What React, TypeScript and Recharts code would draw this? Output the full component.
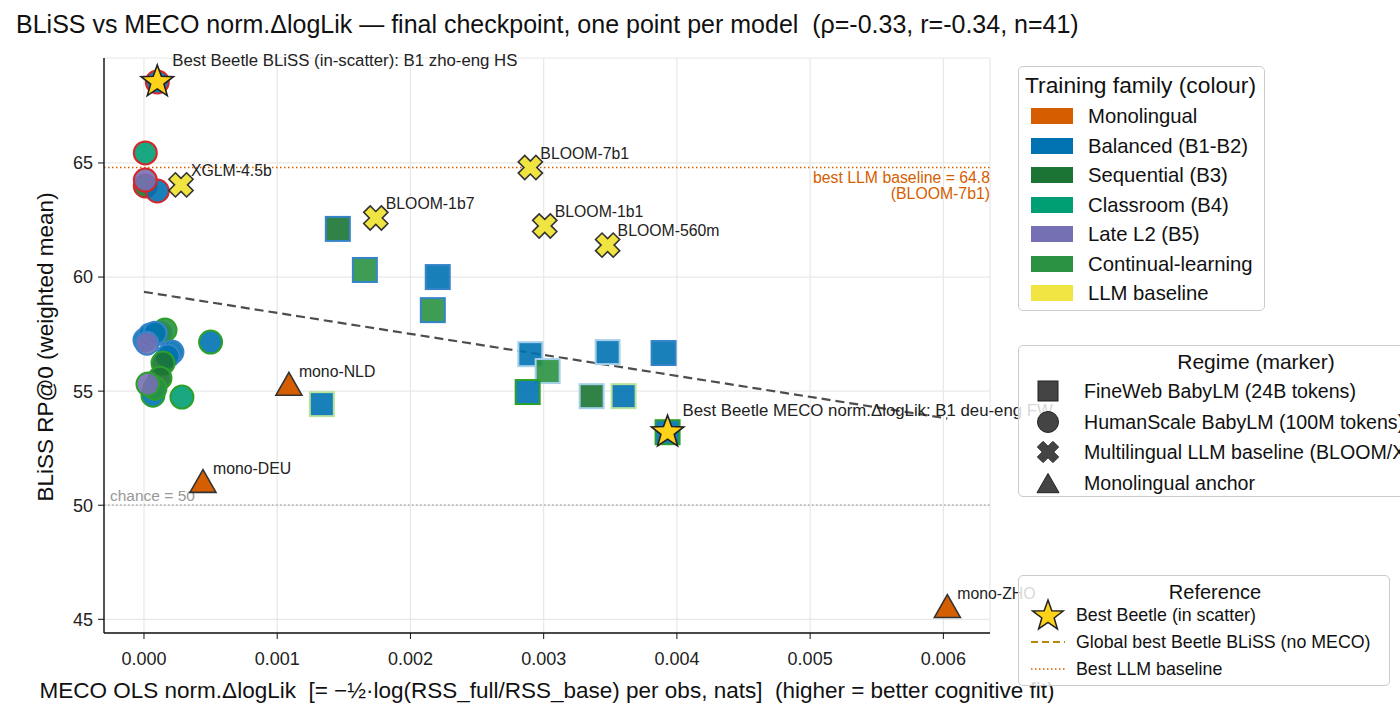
import React from "react";
import {
  CartesianGrid,
  Legend,
  ReferenceLine,
  Scatter,
  ScatterChart,
  XAxis,
  YAxis,
} from "recharts";

type Pt = { x: number; y: number; family: string; ring: string };
type Named = { x: number; y: number; name: string };

const xTicks = [0, 0.001, 0.002, 0.003, 0.004, 0.005, 0.006];
const yTicks = [45, 50, 55, 60, 65];

// HumanScale BabyLM runs (100M tokens)
const humanScale: Pt[] = [
  { x: 0.0001, y: 68.55, family: "Balanced (B1-B2)", ring: "A" },
  { x: 0.00001, y: 65.44, family: "Classroom (B4)", ring: "A" },
  { x: 0.00001, y: 63.99, family: "Sequential (B3)", ring: "A" },
  { x: 0.0001, y: 63.77, family: "Balanced (B1-B2)", ring: "A" },
  { x: 0.00001, y: 64.25, family: "Late L2 (B5)", ring: "A" },
  { x: 0.0000075, y: 57.24, family: "Balanced (B1-B2)", ring: "C" },
  { x: 0.000045, y: 57.46, family: "Balanced (B1-B2)", ring: "C" },
  { x: 0.00012, y: 57.54, family: "Balanced (B1-B2)", ring: "C" },
  { x: 0.000158, y: 57.68, family: "Continual-learning", ring: "B" },
  { x: 0.000083, y: 57.54, family: "Balanced (B1-B2)", ring: "C" },
  { x: 0.0000225, y: 57.1, family: "Late L2 (B5)", ring: "C" },
  { x: 0.00021, y: 56.71, family: "Balanced (B1-B2)", ring: "C" },
  { x: 0.00018, y: 56.54, family: "Balanced (B1-B2)", ring: "C" },
  { x: 0.000143, y: 56.23, family: "Sequential (B3)", ring: "B" },
  { x: 0.00012, y: 55.57, family: "Sequential (B3)", ring: "B" },
  { x: 0.0000675, y: 54.82, family: "Balanced (B1-B2)", ring: "B" },
  { x: 0.0000825, y: 55.13, family: "Continual-learning", ring: "B" },
  { x: 0.00003, y: 55.31, family: "Late L2 (B5)", ring: "B" },
  { x: 0.000285, y: 54.74, family: "Classroom (B4)", ring: "B" },
  { x: 0.0005, y: 57.15, family: "Balanced (B1-B2)", ring: "B" },
];

// FineWeb BabyLM runs (24B tokens)
const fineWeb: Pt[] = [
  { x: 0.001455, y: 62.11, family: "Sequential (B3)", ring: "C" },
  { x: 0.001658, y: 60.31, family: "Continual-learning", ring: "C" },
  { x: 0.002205, y: 60.0, family: "Balanced (B1-B2)", ring: "C" },
  { x: 0.002168, y: 58.55, family: "Continual-learning", ring: "C" },
  { x: 0.0029, y: 56.62, family: "Balanced (B1-B2)", ring: "D" },
  { x: 0.00303, y: 55.88, family: "Continual-learning", ring: "D" },
  { x: 0.00288, y: 54.96, family: "Balanced (B1-B2)", ring: "B" },
  { x: 0.00348, y: 56.71, family: "Balanced (B1-B2)", ring: "D" },
  { x: 0.0039, y: 56.67, family: "Balanced (B1-B2)", ring: "C" },
  { x: 0.00336, y: 54.78, family: "Sequential (B3)", ring: "D" },
  { x: 0.0036, y: 54.78, family: "Balanced (B1-B2)", ring: "E" },
  { x: 0.001335, y: 54.43, family: "Balanced (B1-B2)", ring: "E" },
  { x: 0.00393, y: 53.2, family: "Balanced (B1-B2)", ring: "B" },
];

const llmBaselines: Named[] = [
  { x: 0.000278, y: 64.04, name: "XGLM-4.5b" },
  { x: 0.0029, y: 64.8, name: "BLOOM-7b1" },
  { x: 0.00174, y: 62.59, name: "BLOOM-1b7" },
  { x: 0.003008, y: 62.24, name: "BLOOM-1b1" },
  { x: 0.00348, y: 61.4, name: "BLOOM-560m" },
];

const monoAnchors: Named[] = [
  { x: 0.001088, y: 55.22, name: "mono-NLD" },
  { x: 0.000443, y: 50.96, name: "mono-DEU" },
  { x: 0.00603, y: 45.48, name: "mono-ZHO" },
];

const bestBeetle: Named[] = [
  { x: 0.0001, y: 68.55, name: "Best Beetle BLiSS (in-scatter): B1 zho-eng HS" },
  { x: 0.00393, y: 53.2, name: "Best Beetle MECO norm.ΔlogLik: B1 deu-eng FW" },
];

// least-squares fit over all points
const trendStart = { x: 0, y: 59.35 };
const trendEnd = { x: 0.00603, y: 53.8 };
const bestLlm = 64.8;
const chance = 50;

const families = [
  "Monolingual",
  "Balanced (B1-B2)",
  "Sequential (B3)",
  "Classroom (B4)",
  "Late L2 (B5)",
  "Continual-learning",
  "LLM baseline",
];

const familyColour: Record<string, string> = {
  Monolingual: "#d55e00",
  "Balanced (B1-B2)": "#0072b2",
  "Sequential (B3)": "#1b7433",
  "Classroom (B4)": "#009e73",
  "Late L2 (B5)": "#7570b3",
  "Continual-learning": "#2a9143",
  "LLM baseline": "#f0e442",
};

const ringColour: Record<string, string> = {
  A: "#d62728",
  B: "#2ca02c",
  C: "#3584c8",
  D: "#a6d0ea",
  E: "#b9e29d",
};

const regimes = [
  "FineWeb BabyLM (24B tokens)",
  "HumanScale BabyLM (100M tokens)",
  "Multilingual LLM baseline (BLOOM/XGLM)",
  "Monolingual anchor",
];

const FONT = '"Liberation Sans", Arial, Helvetica, sans-serif';

const crossPath = (cx: number, cy: number, a: number, l: number) => {
  const pts = [
    [a, -l], [a, -a], [l, -a], [l, a], [a, a], [a, l],
    [-a, l], [-a, a], [-l, a], [-l, -a], [-a, -a], [-a, -l],
  ];
  const c = Math.SQRT1_2;
  return (
    pts
      .map(([px, py], i) => `${i ? "L" : "M"}${cx + (px - py) * c},${cy + (px + py) * c}`)
      .join("") + "Z"
  );
};

const starPath = (cx: number, cy: number, R: number, r: number) => {
  let d = "";
  for (let i = 0; i < 10; i++) {
    const rad = i % 2 === 0 ? R : r;
    const ang = -Math.PI / 2 + (i * Math.PI) / 5;
    d += `${i ? "L" : "M"}${cx + rad * Math.cos(ang)},${cy + rad * Math.sin(ang)}`;
  }
  return d + "Z";
};

const triPath = (cx: number, cy: number, w: number) =>
  `M${cx},${cy - w * 1.05}L${cx + w},${cy + w * 0.7}L${cx - w},${cy + w * 0.7}Z`;

const CircleMark = (p: any) => (
  <circle
    cx={p.cx}
    cy={p.cy}
    r={11.5}
    fill={familyColour[p.payload.family]}
    fillOpacity={0.9}
    stroke={ringColour[p.payload.ring]}
    strokeWidth={2}
  />
);

const SquareMark = (p: any) => (
  <rect
    x={p.cx - 12}
    y={p.cy - 12}
    width={24}
    height={24}
    fill={familyColour[p.payload.family]}
    fillOpacity={0.9}
    stroke={ringColour[p.payload.ring]}
    strokeWidth={2}
  />
);

const pointLabel = (x: number, y: number, text: string, size = 15.8) => (
  <text x={x} y={y} fontSize={size} fill="#222">
    {text}
  </text>
);

const CrossMark = (p: any) => (
  <g>
    <path
      d={crossPath(p.cx, p.cy, 4.6, 12.5)}
      fill={familyColour["LLM baseline"]}
      stroke="#333"
      strokeWidth={1.6}
      strokeLinejoin="miter"
    />
    {pointLabel(p.cx + 10, p.cy - 9, p.payload.name)}
  </g>
);

const TriangleMark = (p: any) => (
  <g>
    <path
      d={triPath(p.cx, p.cy, 13)}
      fill={familyColour.Monolingual}
      stroke="#333"
      strokeWidth={1.6}
    />
    {pointLabel(p.cx + 10, p.cy - 9, p.payload.name)}
  </g>
);

const StarMark = (p: any) => (
  <g>
    <path d={starPath(p.cx, p.cy, 17, 7)} fill="#ffd21a" stroke="#222" strokeWidth={1.6} />
    {pointLabel(p.cx + 15, p.cy - 16, p.payload.name, 16.8)}
  </g>
);

const boxStyle: React.CSSProperties = {
  position: "absolute",
  border: "1px solid #cccccc",
  borderRadius: 5,
  background: "rgba(255,255,255,0.82)",
  boxSizing: "border-box",
  color: "#111",
  fontFamily: FONT,
  whiteSpace: "nowrap",
};

const Row = ({ top, left, size, children }: any) => (
  <div
    style={{
      position: "absolute",
      top: top - 13,
      left,
      height: 26,
      lineHeight: "26px",
      fontSize: size,
      display: "flex",
      alignItems: "center",
    }}
  >
    {children}
  </div>
);

const regimeIcon = (i: number) => {
  const c = "#444";
  if (i === 0) return <rect x={2} y={2} width={20} height={20} fill={c} stroke="#222" />;
  if (i === 1) return <circle cx={12} cy={12} r={10.5} fill={c} stroke="#222" />;
  if (i === 2) return <path d={crossPath(12, 12, 4, 11)} fill={c} stroke="#222" />;
  return <path d={triPath(12, 14, 11)} fill={c} stroke="#222" />;
};

const LegendBoxes = () => (
  <div style={{ position: "absolute", left: 0, top: 0, width: 1400, height: 718 }}>
    <div style={{ ...boxStyle, left: 1018, top: 66, width: 247, height: 245 }}>
      <Row top={18} left={6} size={22.8}>
        Training family (colour)
      </Row>
      {families.map((f, i) => (
        <Row key={f} top={49 + i * 29.5} left={12} size={20.3}>
          <span
            style={{
              display: "inline-block",
              width: 42,
              height: 16,
              background: familyColour[f],
              marginRight: 15,
            }}
          />
          {f}
        </Row>
      ))}
    </div>
    <div style={{ ...boxStyle, left: 1018, top: 345, width: 420, height: 152 }}>
      <div
        style={{
          position: "absolute",
          top: 3,
          left: 137,
          width: 200,
          textAlign: "center",
          fontSize: 21,
          lineHeight: "26px",
        }}
      >
        Regime (marker)
      </div>
      {regimes.map((r, i) => (
        <Row key={r} top={45 + i * 30.5} left={17} size={19.6}>
          <svg width={24} height={24} style={{ marginRight: 24 }}>
            {regimeIcon(i)}
          </svg>
          {r}
        </Row>
      ))}
    </div>
    <div style={{ ...boxStyle, left: 1018, top: 575, width: 372, height: 111 }}>
      <div
        style={{
          position: "absolute",
          top: 3,
          left: 0,
          width: 392,
          textAlign: "center",
          fontSize: 20,
          lineHeight: "26px",
        }}
      >
        Reference
      </div>
      <Row top={39} left={12} size={17.8}>
        <svg width={36} height={34} style={{ marginRight: 9 }}>
          <path d={starPath(17, 18, 16, 6.5)} fill="#ffd21a" stroke="#222" strokeWidth={1.5} />
        </svg>
        Best Beetle (in scatter)
      </Row>
      <Row top={66} left={12} size={17.8}>
        <svg width={36} height={10} style={{ marginRight: 9 }}>
          <line x1={0} y1={5} x2={34} y2={5} stroke="#b8860b" strokeWidth={2} strokeDasharray="7 4" />
        </svg>
        Global best Beetle BLiSS (no MECO)
      </Row>
      <Row top={93} left={12} size={17.8}>
        <svg width={36} height={10} style={{ marginRight: 9 }}>
          <line x1={0} y1={5} x2={34} y2={5} stroke="#d55e00" strokeWidth={1.5} strokeDasharray="1.5 2.5" />
        </svg>
        Best LLM baseline
      </Row>
    </div>
  </div>
);

export default function App() {
  return (
    <div
      style={{
        position: "absolute",
        left: 0,
        top: 0,
        width: 1400,
        height: 718,
        overflow: "hidden",
        background: "#fff",
        fontFamily: FONT,
      }}
    >
      <div
        style={{
          position: "absolute",
          left: 16,
          top: 10,
          fontSize: 25,
          lineHeight: "28px",
          color: "#111",
          whiteSpace: "nowrap",
        }}
      >
        BLiSS vs MECO norm.ΔlogLik — final checkpoint, one point per model&nbsp;&nbsp;(ρ=-0.33, r=-0.34, n=41)
      </div>
      <ScatterChart
        width={1400}
        height={718}
        margin={{ top: 58, right: 410, bottom: 0, left: 0 }}
      >
        <CartesianGrid stroke="#e8e8e8" strokeWidth={1.2} />
        <XAxis
          type="number"
          dataKey="x"
          domain={[-0.0003, 0.00635]}
          ticks={xTicks}
          height={85}
          tickFormatter={(v: number) => v.toFixed(3)}
          tick={{ fontSize: 18, fill: "#222" }}
          tickSize={6}
          tickMargin={13}
          axisLine={{ stroke: "#111", strokeWidth: 1.4 }}
          tickLine={{ stroke: "#111" }}
          label={() => (
            <text x={547} y={698} textAnchor="middle" fontSize={22.5} fill="#111">
              MECO OLS norm.ΔlogLik&nbsp;&nbsp;[= −½·log(RSS_full/RSS_base) per obs, nats]&nbsp;&nbsp;(higher = better cognitive fit)
            </text>
          )}
        />
        <YAxis
          type="number"
          dataKey="y"
          domain={[44.4, 69.6]}
          ticks={yTicks}
          width={104}
          tick={{ fontSize: 18, fill: "#222" }}
          tickSize={6}
          tickMargin={5}
          axisLine={{ stroke: "#111", strokeWidth: 1.4 }}
          tickLine={{ stroke: "#111" }}
          label={() => (
            <text
              x={45}
              y={347}
              transform="rotate(-90 45 347)"
              textAnchor="middle"
              dominantBaseline="central"
              fontSize={22.5}
              fill="#111"
            >
              BLiSS RP@0 (weighted mean)
            </text>
          )}
        />
        <ReferenceLine
          y={bestLlm}
          stroke="#d55e00"
          strokeWidth={1.6}
          strokeDasharray="1.5 2.5"
          label={(p: any) => {
            const vb = p.viewBox;
            return (
              <g fontSize={15.8} fill="#d55e00" textAnchor="end">
                <text x={vb.x + vb.width} y={vb.y + 15}>
                  best LLM baseline = {bestLlm}
                </text>
                <text x={vb.x + vb.width} y={vb.y + 31}>
                  (BLOOM-7b1)
                </text>
              </g>
            );
          }}
        />
        <ReferenceLine
          y={chance}
          stroke="#a0a0a0"
          strokeWidth={1.3}
          strokeDasharray="1.5 2.5"
          label={(p: any) => (
            <text x={p.viewBox.x + 6} y={p.viewBox.y - 4} fontSize={15.5} fill="#999">
              chance = {chance}
            </text>
          )}
        />
        <Scatter data={humanScale} shape={CircleMark} isAnimationActive={false} />
        <Scatter data={fineWeb} shape={SquareMark} isAnimationActive={false} />
        <Scatter data={monoAnchors} shape={TriangleMark} isAnimationActive={false} />
        <Scatter data={llmBaselines} shape={CrossMark} isAnimationActive={false} />
        <ReferenceLine
          segment={[trendStart, trendEnd]}
          stroke="#4d4d4d"
          strokeWidth={2.2}
          strokeDasharray="9 5"
        />
        <Scatter data={bestBeetle} shape={StarMark} isAnimationActive={false} />
        <Legend
          verticalAlign="middle"
          layout="horizontal"
          content={() => <LegendBoxes />}
          wrapperStyle={{ left: 0, top: 0, width: 1400, height: 718, pointerEvents: "none" }}
        />
      </ScatterChart>
    </div>
  );
}
